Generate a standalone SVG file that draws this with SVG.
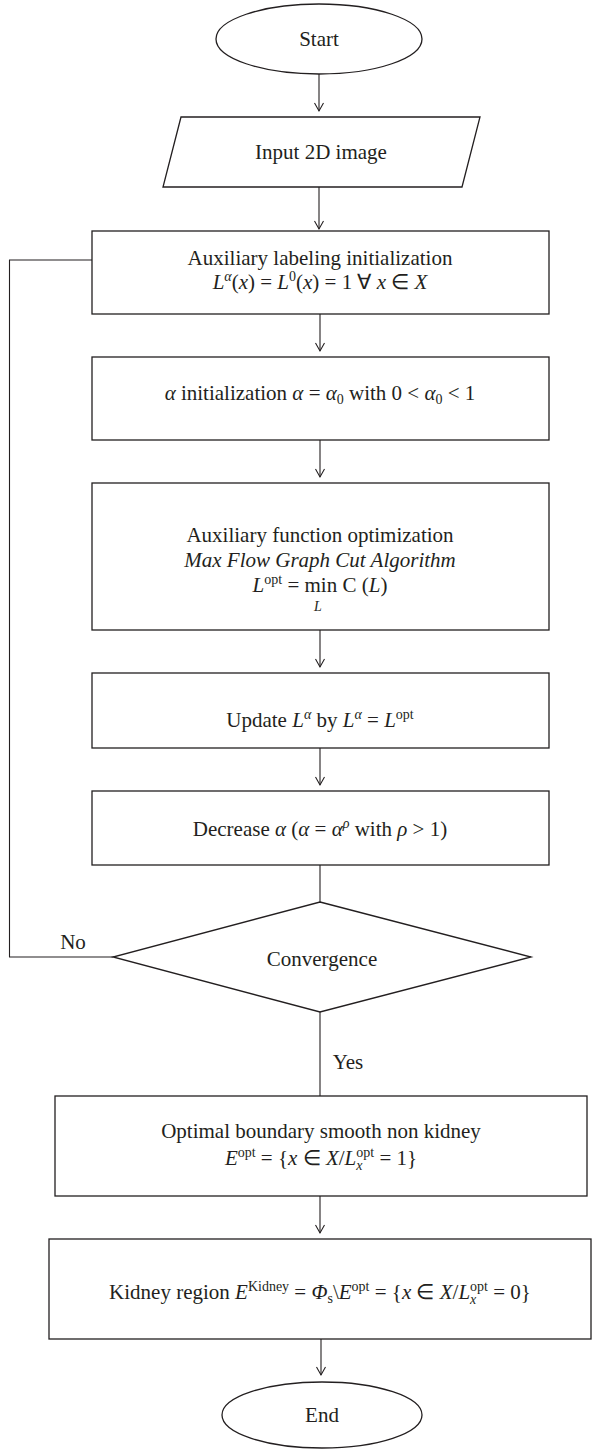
<svg xmlns="http://www.w3.org/2000/svg" width="595" height="1450" viewBox="0 0 595 1450">
<style>
.n{fill:#fff;stroke:#231f20;stroke-width:1.3}
.c{fill:none;stroke:#231f20;stroke-width:1.1}
.t{font-family:"Liberation Serif",serif;font-size:21px;fill:#231f20;text-anchor:middle}
.i{font-style:italic}
.s{font-size:14px}
</style>
<defs>
<marker id="arr" markerUnits="userSpaceOnUse" markerWidth="12" markerHeight="12" viewBox="0 0 12 12" refX="10" refY="6" orient="auto" overflow="visible">
<path d="M2,1.5 L10,6 L2,10.5" fill="none" stroke="#231f20" stroke-width="1.1"/>
</marker>
</defs>
<rect width="595" height="1450" fill="#fff"/>
<g id="connectors">
<line class="c" x1="319" y1="74" x2="319" y2="111" marker-end="url(#arr)"/>
<line class="c" x1="319" y1="187" x2="319" y2="229" marker-end="url(#arr)"/>
<line class="c" x1="320" y1="314" x2="320" y2="351" marker-end="url(#arr)"/>
<line class="c" x1="320" y1="440" x2="320" y2="477" marker-end="url(#arr)"/>
<line class="c" x1="320" y1="630" x2="320" y2="667" marker-end="url(#arr)"/>
<line class="c" x1="320" y1="748" x2="320" y2="785" marker-end="url(#arr)"/>
<line class="c" x1="320" y1="865" x2="320" y2="902"/>
<line class="c" x1="320" y1="1012" x2="320" y2="1096"/>
<line class="c" x1="320" y1="1196" x2="320" y2="1233" marker-end="url(#arr)"/>
<line class="c" x1="321" y1="1339" x2="321" y2="1375" marker-end="url(#arr)"/>
<polyline class="c" points="113,957 9.5,957 9.5,260 92,260"/>
<text class="t" x="73" y="949">No</text>
<text class="t" x="348" y="1069">Yes</text>
</g>
<g id="start">
<ellipse class="n" cx="319" cy="39" rx="103" ry="35"/>
<text class="t" x="319" y="46">Start</text>
</g>
<g id="input">
<polygon class="n" points="181,117 480,117 462,187 163,187"/>
<text class="t" x="321" y="159">Input 2D image</text>
</g>
<g id="aux-label">
<rect class="n" x="92" y="231" width="457" height="83"/>
<text class="t" x="320" y="265">Auxiliary labeling initialization</text>
<text class="t" x="320" y="289"><tspan class="i">L</tspan><tspan class="i s" dy="-8">α</tspan><tspan dy="8">(</tspan><tspan class="i">x</tspan>) = <tspan class="i">L</tspan><tspan class="s" dy="-8">0</tspan><tspan dy="8">(</tspan><tspan class="i">x</tspan>) = 1 ∀ <tspan class="i">x</tspan> ∈ <tspan class="i">X</tspan></text>
</g>
<g id="alpha-init">
<rect class="n" x="92" y="357" width="457" height="83"/>
<text class="t" x="320" y="400"><tspan class="i">α</tspan> initialization <tspan class="i">α</tspan> = <tspan class="i">α</tspan><tspan class="s" dy="4">0</tspan><tspan dy="-4"> with 0 &lt; </tspan><tspan class="i">α</tspan><tspan class="s" dy="4">0</tspan><tspan dy="-4"> &lt; 1</tspan></text>
</g>
<g id="aux-func">
<rect class="n" x="92" y="483" width="457" height="147"/>
<text class="t" x="320" y="542">Auxiliary function optimization</text>
<text class="t i" x="320" y="567">Max Flow Graph Cut Algorithm</text>
<text class="t" x="320" y="592"><tspan class="i">L</tspan><tspan class="s" dy="-8">opt</tspan><tspan dy="8"> = min C (</tspan><tspan class="i">L</tspan>)</text>
<text class="t i s" x="318" y="611">L</text>
</g>
<g id="update">
<rect class="n" x="92" y="673" width="457" height="75"/>
<text class="t" x="320" y="727">Update <tspan class="i">L</tspan><tspan class="i s" dy="-8">α</tspan><tspan dy="8"> by </tspan><tspan class="i">L</tspan><tspan class="i s" dy="-8">α</tspan><tspan dy="8"> = </tspan><tspan class="i">L</tspan><tspan class="s" dy="-8">opt</tspan></text>
</g>
<g id="decrease">
<rect class="n" x="92" y="791" width="457" height="74"/>
<text class="t" x="320" y="836">Decrease <tspan class="i">α</tspan> (<tspan class="i">α</tspan> = <tspan class="i">α</tspan><tspan class="i s" dy="-8">ρ</tspan><tspan dy="8"> with </tspan><tspan class="i">ρ</tspan> &gt; 1)</text>
</g>
<g id="convergence">
<polygon class="n" points="320,902 531,957 320,1012 113,957"/>
<text class="t" x="322" y="966">Convergence</text>
</g>
<g id="optimal">
<rect class="n" x="55" y="1096" width="532" height="100"/>
<text class="t" x="321" y="1138">Optimal boundary smooth non kidney</text>
<text class="t" x="321" y="1165"><tspan class="i">E</tspan><tspan class="s" dy="-8">opt</tspan><tspan dy="8"> = {</tspan><tspan class="i">x</tspan> ∈ <tspan class="i">X</tspan>/<tspan class="i">L</tspan><tspan class="s" dy="-8">opt</tspan><tspan class="s i" dx="-17.9" dy="13">x</tspan><tspan dx="11.7" dy="-5"> = 1}</tspan></text>
</g>
<g id="kidney">
<rect class="n" x="49" y="1239" width="542" height="100"/>
<text class="t" x="320" y="1299">Kidney region <tspan class="i">E</tspan><tspan class="s" dy="-8">Kidney</tspan><tspan dy="8"> = </tspan><tspan class="i">Φ</tspan><tspan class="s" dy="4">s</tspan><tspan dy="-4">\</tspan><tspan class="i">E</tspan><tspan class="s" dy="-8">opt</tspan><tspan dy="8"> = {</tspan><tspan class="i">x</tspan> ∈ <tspan class="i">X</tspan>/<tspan class="i">L</tspan><tspan class="s" dy="-8">opt</tspan><tspan class="s i" dx="-17.9" dy="13">x</tspan><tspan dx="11.7" dy="-5"> = 0}</tspan></text>
</g>
<g id="end">
<ellipse class="n" cx="322" cy="1415" rx="100" ry="33"/>
<text class="t" x="322" y="1422">End</text>
</g>
</svg>
